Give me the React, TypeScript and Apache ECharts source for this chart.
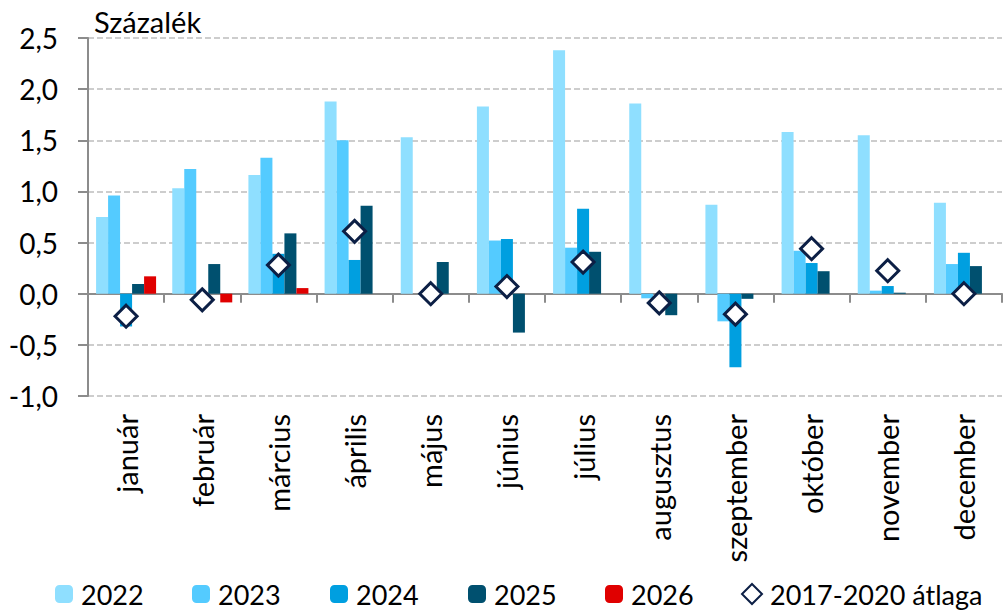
import React, { useEffect, useRef } from "react";
import * as echarts from "echarts";

const months = ["január", "február", "március", "április", "május", "június", "július", "augusztus", "szeptember", "október", "november", "december"];
const s2022 = [0.75, 1.03, 1.16, 1.88, 1.53, 1.83, 2.38, 1.86, 0.87, 1.58, 1.55, 0.89];
const s2023 = [0.96, 1.22, 1.33, 1.5, 0, 0.52, 0.45, -0.045, -0.27, 0.42, 0.03, 0.29];
const s2024 = [-0.32, 0, 0.39, 0.33, 0, 0.535, 0.83, 0, -0.72, 0.3, 0.075, 0.4];
const s2025 = [0.095, 0.29, 0.59, 0.86, 0.31, -0.38, 0.41, -0.21, -0.05, 0.22, 0.01, 0.27];
const s2026 = [0.17, -0.085, 0.055, null, null, null, null, null, null, null, null, null];
const avg = [-0.22, -0.06, 0.28, 0.61, 0.0, 0.07, 0.31, -0.09, -0.2, 0.44, 0.225, 0.0];
const yTicks = { min: -1, max: 2.5, step: 0.5 };

const FONT = "Lato";
const colors = { "2022": "#8fdfff", "2023": "#54cbff", "2024": "#009fe0", "2025": "#00506f", "2026": "#e00000" };
const legendLeft = [55, 192, 330, 468, 605, 741];

export default function App() {
  const ref = useRef<HTMLDivElement>(null);
  useEffect(() => {
    document.body.style.margin = "0";
    const chart = echarts.init(ref.current!, null, { renderer: "svg" });
    const barSeries = [
      ["2022", s2022],
      ["2023", s2023],
      ["2024", s2024],
      ["2025", s2025],
      ["2026", s2026],
    ].map(([name, data]) => ({
      name: name as string,
      type: "bar",
      data: data as (number | null)[],
      barWidth: 12,
      barGap: "0%",
      itemStyle: { color: (colors as any)[name as string] },
    }));
    const legendNames = ["2022", "2023", "2024", "2025", "2026", "2017-2020 átlaga"];
    chart.setOption({
      animation: false,
      textStyle: { fontFamily: FONT },
      grid: { left: 88, right: 2, top: 38, bottom: 214, containLabel: false, outerBoundsMode: "none" },
      legend: legendNames.map((n, i) => ({
        data: [n],
        left: legendLeft[i],
        top: 580,
        padding: 0,
        itemWidth: i === 5 ? 20 : 18,
        itemHeight: i === 5 ? 20 : 18,
        selectedMode: false,
        textStyle: { fontFamily: FONT, fontSize: 27, lineHeight: 28, color: "#000", padding: [0, 0, 0, 3] },
      })),
      graphic: [
        { type: "text", left: 94, top: 7, style: { text: "Százalék", fontFamily: FONT, fontSize: 29, fill: "#000" } },
      ],
      xAxis: {
        type: "category",
        data: months,
        axisLine: { onZero: true, lineStyle: { color: "#8c8c8c", width: 2 } },
        axisTick: { show: true, interval: 0, alignWithLabel: false, length: 9, lineStyle: { color: "#8c8c8c", width: 2 } },
        axisLabel: { rotate: 90, margin: 18, fontSize: 29, color: "#000", fontFamily: FONT, interval: 0 },
        splitLine: { show: false },
      },
      yAxis: {
        type: "value",
        min: yTicks.min,
        max: yTicks.max,
        interval: yTicks.step,
        axisLine: { show: true, lineStyle: { color: "#8c8c8c", width: 2 } },
        axisTick: { show: true, length: 10, lineStyle: { color: "#8c8c8c", width: 2 } },
        axisLabel: {
          fontSize: 28,
          color: "#000",
          fontFamily: FONT,
          margin: 30,
          formatter: (v: number) => v.toFixed(1).replace(".", ","),
        },
        splitLine: { show: true, lineStyle: { color: "#bdbdbd", type: [6, 3], width: 1.5 } },
      },
      series: [
        ...barSeries,
        {
          name: "2017-2020 átlaga",
          type: "scatter",
          data: avg,
          symbol: "diamond",
          symbolSize: 22,
          z: 5,
          itemStyle: { color: "#ffffff", opacity: 1, borderColor: "#0c1f45", borderWidth: 3 },
        },
      ],
    });
    return () => chart.dispose();
  }, []);
  return <div ref={ref} style={{ width: 1004, height: 610 }} />;
}
